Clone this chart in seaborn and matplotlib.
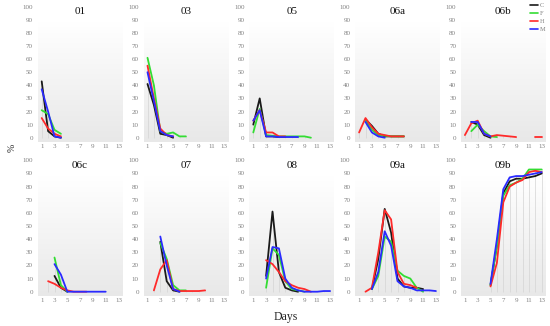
import numpy as np
import pandas as pd
import matplotlib
matplotlib.use("Agg")
import matplotlib.pyplot as plt
import seaborn as sns

N = np.nan
days = list(range(1, 14))
series_names = ["C", "F", "H", "M"]
series_colors = ["#1a1a1a", "#33dd33", "#ff2a2a", "#2a2aff"]
panel_titles = ["01", "03", "05", "06a", "06b", "06c", "07", "08", "09a", "09b"]

def pad(vals):
    return vals + [N] * (13 - len(vals))

# % per day, one list per series (C, F, H, M) for each sample
p01_C = pad([43, 5, 1, 0])
p01_F = pad([21, 18, 6, 3])
p01_H = pad([15, 7, 3, 1])
p01_M = pad([37, 20, 1, 0])

p03_C = pad([41, 25, 3, 2, 0])
p03_F = pad([61, 40, 5, 3, 4, 1, 1])
p03_H = pad([55, 30, 7, 2, 1])
p03_M = pad([50, 28, 5, 2, 1])

p05_C = pad([10, 30, 1, 1, 0.5, 0.5])
p05_F = pad([4, 22, 2, 1.5, 1, 1, 1, 1, 1, 0])
p05_H = pad([13, 21, 4, 4, 1, 1])
p05_M = pad([13, 21, 1, 1, 0.5, 0.5, 0.5, 0.5])

p06a_C = pad([N, 14, 9, 3, 1, 1, 1, 1])
p06a_F = pad([N, 13, 6, 2, 1.5, 1, 1, 1])
p06a_H = pad([4, 15, 8, 3, 2, 1, 1, 1])
p06a_M = pad([N, 12, 4, 1, 0])

p06b_C = pad([N, 12, 10, 2, 0])
p06b_F = pad([N, 5, 10, 5, 1, 0.5])
p06b_H = pad([2, 11, 13, 3, 1, 2, 1.5, 1, 0.5, N, N, 0.5, 0.5])
p06b_M = pad([N, 12, 12, 3, 1])

p06c_C = pad([N, N, 12, 3, 0])
p06c_F = pad([N, N, 26, 5, 0])
p06c_H = pad([N, 8, 6, 3, 1, 0, 0, 0])
p06c_M = pad([N, N, 21, 13, 0, 0, 0, 0, 0, 0, 0])

p07_C = pad([N, N, 38, 8, 1, 0])
p07_F = pad([N, N, 37, 25, 5, 1, 1])
p07_H = pad([N, 1, 17, 24, 2, 0.5, 0.5, 0.5, 0.5, 1])
p07_M = pad([N, N, 42, 20, 2, 0])

p08_C = pad([N, N, 12, 61, 15, 3, 1, 0])
p08_F = pad([N, N, 3, 33, 28, 8, 2, 1, 0])
p08_H = pad([N, N, 24, 21, 15, 8, 5, 3, 2, 0])
p08_M = pad([N, N, 10, 34, 33, 10, 3, 1, 0, 0, 0, 0.5, 0.5])

p09a_C = pad([N, N, 2, 25, 63, 45, 10, 4, 3, 3, 2])
p09a_F = pad([N, N, 2, 12, 42, 38, 16, 12, 10, 3, 0])
p09a_H = pad([N, 0, 3, 30, 62, 55, 15, 6, 5, 3])
p09a_M = pad([N, N, 2, 15, 46, 35, 8, 4, 3, 1, 1, 1, 0.5])

p09b_C = [N, N, N, N, 5, 35, 75, 84, 86, 86, 87, 88, 90]
p09b_F = [N, N, N, N, 5, 35, 73, 81, 83, 86, 93, 93, 93]
p09b_H = [N, N, N, N, 4, 22, 68, 80, 83, 85, 91, 92, 91]
p09b_M = [N, N, N, N, 6, 40, 78, 87, 88, 88, 89, 90, 91]

panels = [
    [p01_C, p01_F, p01_H, p01_M],
    [p03_C, p03_F, p03_H, p03_M],
    [p05_C, p05_F, p05_H, p05_M],
    [p06a_C, p06a_F, p06a_H, p06a_M],
    [p06b_C, p06b_F, p06b_H, p06b_M],
    [p06c_C, p06c_F, p06c_H, p06c_M],
    [p07_C, p07_F, p07_H, p07_M],
    [p08_C, p08_F, p08_H, p08_M],
    [p09a_C, p09a_F, p09a_H, p09a_M],
    [p09b_C, p09b_F, p09b_H, p09b_M],
]

sns.set_style("white")
plt.rcParams['font.family'] = ['Liberation Serif', 'DejaVu Serif']

W, H = 550, 326
fig = plt.figure(figsize=(5.5, 3.26), dpi=100)

# background gradient (white top -> light grey bottom)
grad = np.linspace(1.0, 0.0, 256).reshape(-1, 1)
cmap = matplotlib.colors.LinearSegmentedColormap.from_list("bg", ["#e8e8e8", "#ffffff"])

px_day = 6.4
for i, (title, series) in enumerate(zip(panel_titles, panels)):
    r, c = divmod(i, 5)
    day1 = 41.7 + 105.8 * c
    left = day1 - 0.6 * px_day
    width = 13.2 * px_day
    if r == 0:
        zero, top = 137.7, 6.7
    else:
        zero, top = 291.7, 160.3
    scale = (zero - top) / 100
    bottom = zero + 3 * scale
    ax = fig.add_axes([left / W, 1 - bottom / H, width / W, (bottom - top) / H])

    ax.imshow(grad, extent=[0.4, 13.6, -3, 88], aspect="auto", cmap=cmap,
              vmin=0, vmax=1, zorder=0)

    rows = []
    for name, vals in zip(series_names, series):
        for d, v in zip(days, vals):
            rows.append({"day": d, "pct": v, "series": name})
    df = pd.DataFrame(rows)

    # light drop lines at each day
    mx = df.groupby("day")["pct"].max().dropna()
    ax.vlines(mx.index, 0, mx.values, color="#d4d4d4", lw=0.5, zorder=1)

    for name, col, vals in zip(series_names, series_colors, series):
        sub = pd.DataFrame({"day": days, "pct": vals})
        # split into runs so gaps stay gaps
        ok = sub["pct"].notna()
        run = (~ok).cumsum()
        for _, part in sub[ok].groupby(run[ok]):
            sns.lineplot(data=part, x="day", y="pct", color=col, lw=1.3,
                         ax=ax, legend=False, zorder=3)

    ax.set_xlim(0.4, 13.6)
    ax.set_ylim(-3, 100)
    ax.set_xticks([1, 3, 5, 7, 9, 11, 13])
    ax.set_yticks(range(0, 101, 10))
    ax.tick_params(length=0, labelsize=5, labelcolor="#808080")
    ax.tick_params(axis="y", pad=3.5)
    ax.tick_params(axis="x", pad=1.5)
    ax.set_xlabel("")
    ax.set_ylabel("")
    ax.patch.set_alpha(0)
    for s in ax.spines.values():
        s.set_visible(False)
    ax.text(7, 96, title, ha="center", va="center", fontsize=8, color="#111111")

# legend
handles = [matplotlib.lines.Line2D([], [], color=col, lw=1.2) for col in series_colors]
fig.legend(handles, series_names, loc="upper right", bbox_to_anchor=(548 / W, 1.0),
           frameon=False, fontsize=4.5, handlelength=1.3, handletextpad=0.3,
           labelspacing=0.45, labelcolor="#808080", borderaxespad=0)

fig.text(12 / W, 1 - 148 / H, "%", rotation=90, ha="center", va="center", fontsize=7)
fig.text(286 / W, 1 - 317 / H, "Days", ha="center", va="center", fontsize=8.5)

fig.savefig("out.png", dpi=100)
